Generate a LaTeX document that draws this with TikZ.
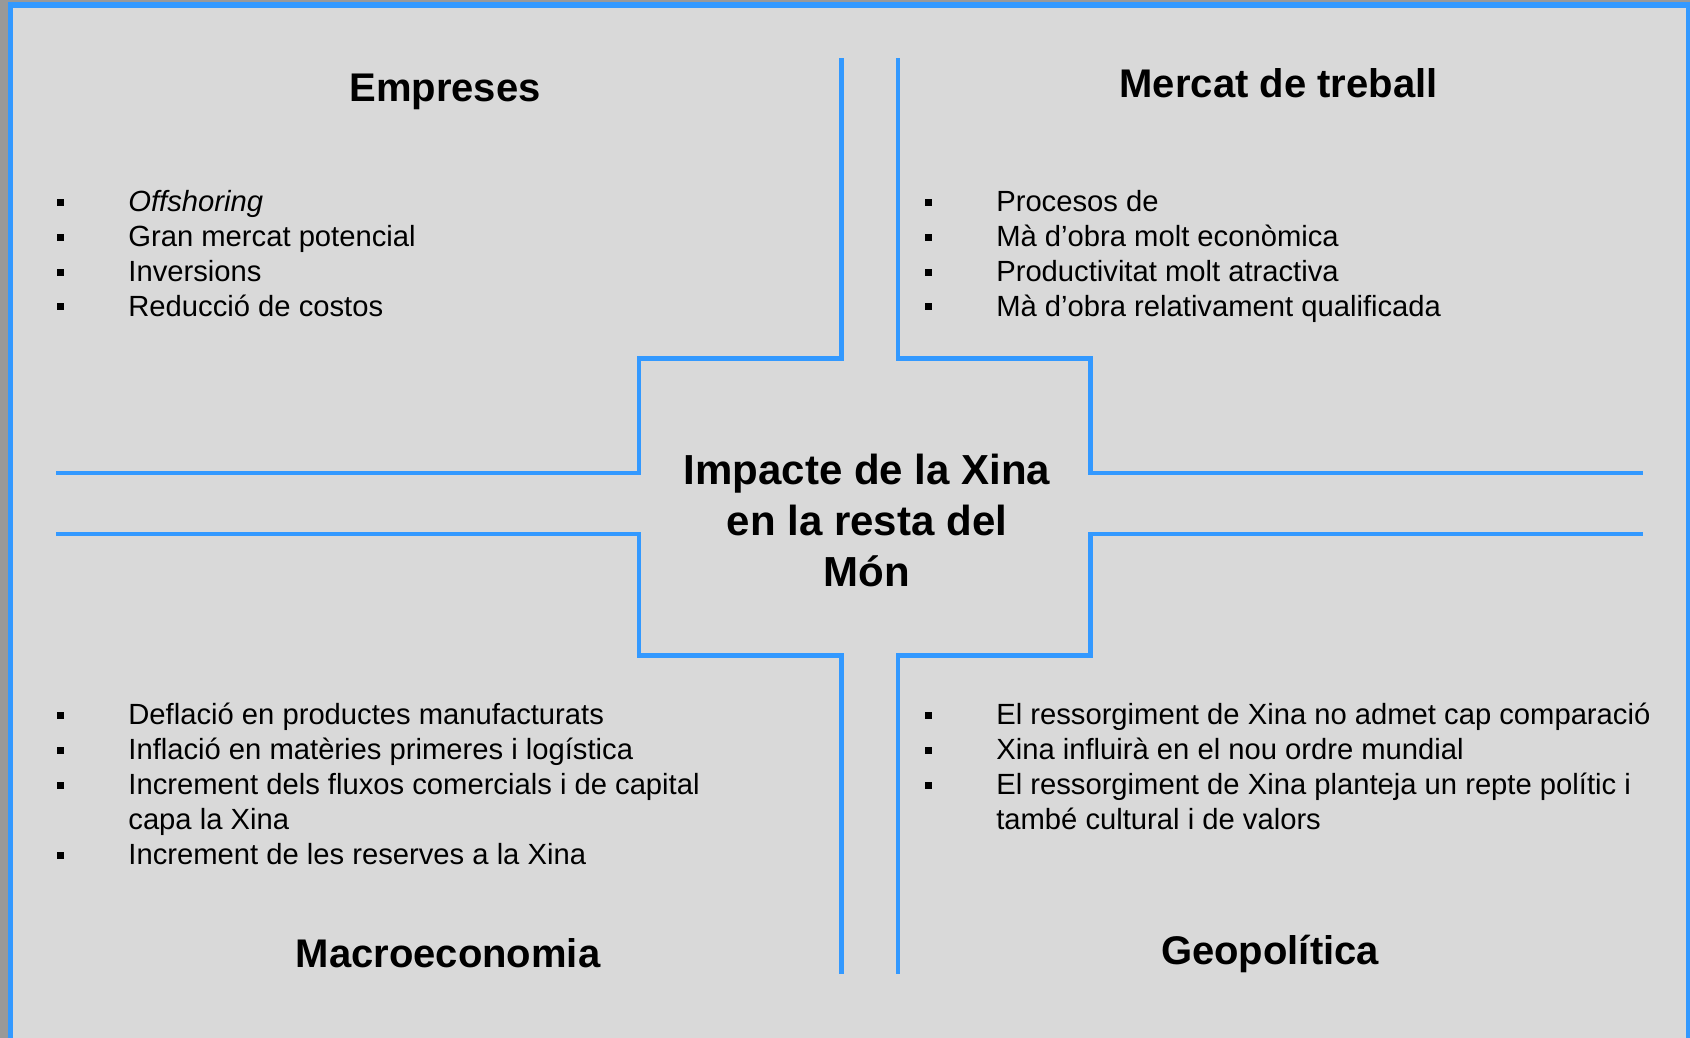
\documentclass[tikz,border=0pt]{standalone}
\usepackage{fontspec}
\setmainfont{Liberation Sans}
\definecolor{lineblue}{RGB}{51,153,255}
\definecolor{panelgray}{RGB}{217,217,217}
\definecolor{outergray}{RGB}{153,153,153}
\newcommand\bulmark{\makebox[71pt][l]{\raisebox{5.7pt}{\rule{7pt}{7pt}}}}
\newcommand\bulskip{\hspace*{71pt}}
\tikzset{
  cross/.style={draw=lineblue, line width=4.4pt, line join=miter, line cap=butt},
  itemtext/.style={anchor=base west, inner sep=0pt, font=\fontsize{29.2}{35}\selectfont},
  headtext/.style={anchor=base, inner sep=0pt, font=\fontsize{40}{48}\selectfont\bfseries},
  centertext/.style={anchor=base, inner sep=0pt, font=\fontsize{42}{51}\selectfont\bfseries},
}
\begin{document}
\begin{tikzpicture}[x=1pt,y=-1pt]
\useasboundingbox (0,0) rectangle (1690,1038);
\fill[outergray] (0,0) rectangle (1690,1038);
\filldraw[fill=panelgray, draw=lineblue, line width=5.6pt] (10.3,4.8) rectangle (1688.6,1060);

% cross-shaped frame
\draw[cross] (56,472.8) -- (638.7,472.8) -- (638.7,358.5) -- (841.3,358.5) -- (841.3,58.3);
\draw[cross] (898,58.3) -- (898,358.5) -- (1090.3,358.5) -- (1090.3,472.8) -- (1643.3,472.8);
\draw[cross] (56,533.8) -- (638.7,533.8) -- (638.7,655.3) -- (841.3,655.3) -- (841.3,973.7);
\draw[cross] (898,973.7) -- (898,655.3) -- (1090.3,655.3) -- (1090.3,533.8) -- (1643.3,533.8);

% headings
\node[headtext] (hEmp) at (445,101.7) {Empreses};
\node[headtext] (hMer) at (1278.6,97.3) {Mercat de treball};
\node[headtext] (hMac) at (448,967.3) {Macroeconomia};
\node[headtext] (hGeo) at (1270,964) {Geopolítica};

% centre
\node[centertext] (c1) at (867,484) {Impacte de la Xina};
\node[centertext] (c2) at (867,535) {en la resta del};
\node[centertext] (c3) at (867,586) {Món};

% Empreses
\node[itemtext] (e1) at (57.2,211.7) {\bulmark\textit{Offshoring}};
\node[itemtext] (e2) at (57.2,246.5) {\bulmark Gran mercat potencial};
\node[itemtext] (e3) at (57.2,281.2) {\bulmark Inversions};
\node[itemtext] (e4) at (57.2,316) {\bulmark Reducció de costos};

% Mercat de treball
\node[itemtext] (m1) at (925.1,211.7) {\bulmark Procesos de};
\node[itemtext] (m2) at (925.1,246.5) {\bulmark Mà d’obra molt econòmica};
\node[itemtext] (m3) at (925.1,281.2) {\bulmark Productivitat molt atractiva};
\node[itemtext] (m4) at (925.1,316) {\bulmark Mà d’obra relativament qualificada};

% Macroeconomia
\node[itemtext] (a1) at (57.2,724.3) {\bulmark Deflació en productes manufacturats};
\node[itemtext] (a2) at (57.2,759.3) {\bulmark Inflació en matèries primeres i logística};
\node[itemtext] (a3) at (57.2,794.3) {\bulmark Increment dels fluxos comercials i de capital};
\node[itemtext] (a3b) at (57.2,829.3) {\bulskip capa la Xina};
\node[itemtext] (a4) at (57.2,864.3) {\bulmark Increment de les reserves a la Xina};

% Geopolitica
\node[itemtext] (g1) at (925.1,724.3) {\bulmark El ressorgiment de Xina no admet cap comparació};
\node[itemtext] (g2) at (925.1,759.3) {\bulmark Xina influirà en el nou ordre mundial};
\node[itemtext] (g3) at (925.1,794.3) {\bulmark El ressorgiment de Xina planteja un repte polític i};
\node[itemtext] (g3b) at (925.1,829.3) {\bulskip també cultural i de valors};
\end{tikzpicture}
\end{document}
